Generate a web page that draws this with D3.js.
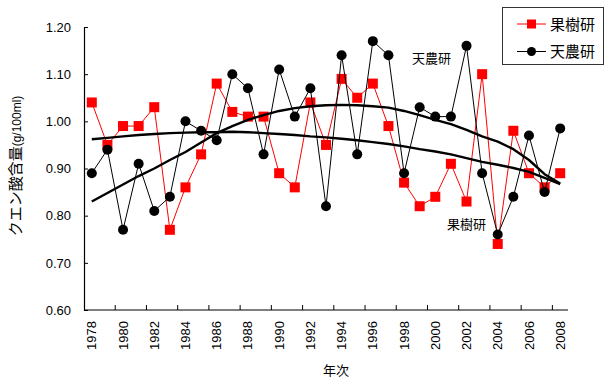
<!DOCTYPE html>
<html><head><meta charset="utf-8">
<script src="https://cdn.jsdelivr.net/npm/d3@7"></script>
<style>
html,body{margin:0;padding:0;background:#fff;}
text{font-family:"Liberation Sans",Arial,"Noto Sans CJK JP",sans-serif;}
</style></head>
<body>
<svg id="chart" width="605" height="381"></svg>
<script>
const years = d3.range(1978, 2009);
const kajuken = [1.04,0.95,0.99,0.99,1.03,0.77,0.86,0.93,1.08,1.02,1.01,1.01,0.89,0.86,1.04,0.95,1.09,1.05,1.08,0.99,0.87,0.82,0.84,0.91,0.83,1.10,0.74,0.98,0.89,0.86,0.89];
const tennoken = [0.89,0.94,0.77,0.91,0.81,0.84,1.00,0.98,0.96,1.10,1.07,0.93,1.11,1.01,1.07,0.82,1.14,0.93,1.17,1.14,0.89,1.03,1.01,1.01,1.16,0.89,0.76,0.84,0.97,0.85,0.985];
const tennokenTrend = [0.830,0.848,0.866,0.884,0.900,0.918,0.935,0.955,0.975,0.990,1.003,1.013,1.022,1.028,1.032,1.034,1.035,1.034,1.032,1.029,1.022,1.013,1.003,0.994,0.982,0.968,0.957,0.941,0.918,0.888,0.868];
const kajukenTrend = [0.962,0.965,0.968,0.971,0.973,0.975,0.976,0.977,0.977,0.978,0.977,0.975,0.973,0.971,0.968,0.966,0.963,0.960,0.956,0.952,0.947,0.941,0.936,0.930,0.922,0.914,0.908,0.901,0.893,0.880,0.867];
const yTicks = [0.60,0.70,0.80,0.90,1.00,1.10,1.20];
const xLabelYears = years.filter(y => y % 2 === 0);
const seriesNames = ["果樹研","天農研"];

const svg = d3.select("#chart");
const L = 84, R = 568, T = 27, B = 310;
const x = d3.scaleBand().domain(years).range([L, R]).paddingInner(0).paddingOuter(0);
const cx = d => x(d) + x.bandwidth()/2;
const y = d3.scaleLinear().domain([0.6, 1.2]).range([B, T]);

// Y axis
const yAxis = d3.axisLeft(y).tickValues(yTicks).tickFormat(d3.format(".2f"))
  .tickSizeInner(-4).tickSizeOuter(0).tickPadding(13);
const gy = svg.append("g").attr("transform", `translate(${L},0)`).call(yAxis);
gy.select(".domain").attr("stroke", "#000").attr("stroke-width", 1.2);
gy.selectAll("line").attr("stroke", "#000");
gy.selectAll("text").attr("font-size", 13).attr("fill", "#000")
  .style("font-family", '"Liberation Sans",Arial,sans-serif');

// X axis
const gx = svg.append("g").attr("transform", `translate(0,${B})`);
gx.append("line").attr("x1", L).attr("x2", R).attr("y1", 0).attr("y2", 0)
  .attr("stroke", "#000").attr("stroke-width", 1.2);
gx.selectAll("line.tick").data(xLabelYears.filter(d => d > 1978)).join("line")
  .attr("class", "tick")
  .attr("x1", d => x(d)).attr("x2", d => x(d)).attr("y1", 0).attr("y2", -5)
  .attr("stroke", "#000");
gx.selectAll("text.lab").data(xLabelYears).join("text")
  .attr("class", "lab")
  .attr("transform", d => `translate(${cx(d)},11) rotate(-90)`)
  .attr("text-anchor", "end").attr("dy", "0.35em")
  .attr("font-size", 13).attr("fill", "#000")
  .text(d => d);

// Titles
svg.append("text").attr("x", 336).attr("y", 375).attr("text-anchor", "middle")
  .attr("font-size", 13).text("年次");
const yt = svg.append("text").attr("transform", "translate(21,166) rotate(-90)")
  .attr("text-anchor", "middle").attr("font-size", 15);
yt.append("tspan").text("クエン酸含量");
yt.append("tspan").attr("font-size", 12).text("(g/100ml)");

const line = d3.line().x((d, i) => cx(years[i])).y(d => y(d));

// Series: 果樹研
svg.append("path").datum(kajuken).attr("d", line).attr("fill", "none")
  .attr("stroke", "#ff0000").attr("stroke-width", 1);
svg.selectAll("rect.kaju").data(kajuken).join("rect").attr("class", "kaju")
  .attr("x", (d, i) => cx(years[i]) - 5).attr("y", d => y(d) - 5)
  .attr("width", 10).attr("height", 10).attr("fill", "#ff0000");

// Series: 天農研
svg.append("path").datum(tennoken).attr("d", line).attr("fill", "none")
  .attr("stroke", "#000").attr("stroke-width", 1);
svg.selectAll("circle.tenno").data(tennoken).join("circle").attr("class", "tenno")
  .attr("cx", (d, i) => cx(years[i])).attr("cy", d => y(d)).attr("r", 5).attr("fill", "#000");

// Trends
[tennokenTrend, kajukenTrend].forEach(t => {
  svg.append("path").datum(t).attr("d", line).attr("fill", "none")
    .attr("stroke", "#000").attr("stroke-width", 2.4).attr("stroke-linejoin", "round");
});

// Inline labels
svg.append("text").attr("x", 412).attr("y", 63).attr("font-size", 13).text("天農研");
svg.append("text").attr("x", 447).attr("y", 229).attr("font-size", 13).text("果樹研");

// Legend
const lg = svg.append("g");
lg.append("rect").attr("x", 502.5).attr("y", 7.5).attr("width", 101).attr("height", 57)
  .attr("fill", "#fff").attr("stroke", "#333").attr("stroke-width", 1);
const ly = [24, 51.5];
seriesNames.forEach((n, i) => {
  const col = i === 0 ? "#ff0000" : "#000";
  lg.append("line").attr("x1", 517).attr("x2", 546).attr("y1", ly[i]).attr("y2", ly[i])
    .attr("stroke", col).attr("stroke-width", 1);
  if (i === 0) lg.append("rect").attr("x", 527).attr("y", ly[i] - 4.5).attr("width", 9).attr("height", 9).attr("fill", col);
  else lg.append("circle").attr("cx", 531.5).attr("cy", ly[i]).attr("r", 4.5).attr("fill", col);
  lg.append("text").attr("x", 550).attr("y", ly[i] + 5.5).attr("font-size", 15).text(n);
});
</script>
</body></html>
